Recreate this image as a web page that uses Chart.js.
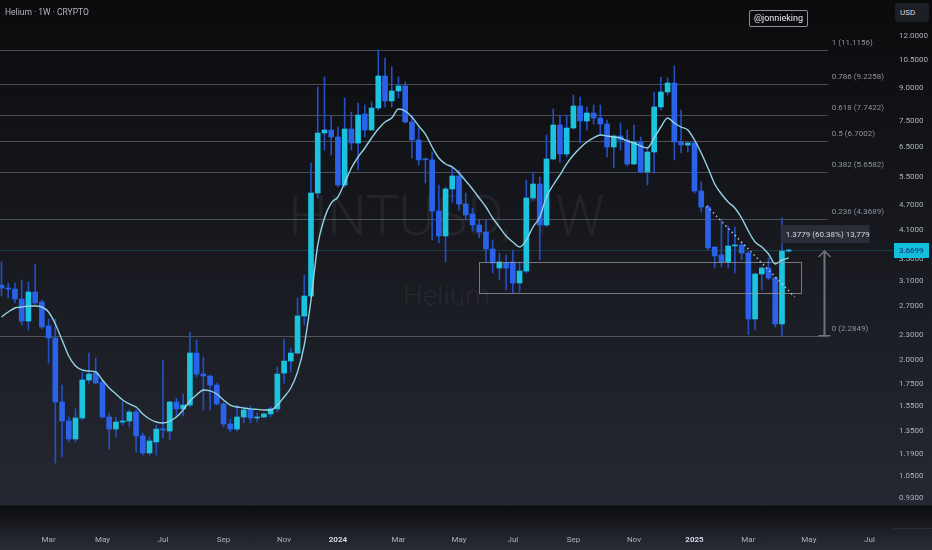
<!DOCTYPE html>
<html lang="en">
<head>
  <meta charset="UTF-8">
  <title>Helium HNTUSD 1W</title>
  <script src="https://cdn.jsdelivr.net/npm/chart.js"></script>
  <style>
    html, body { margin: 0; padding: 0; background: #0b0b0d; }
    #wrap {
      position: relative; width: 932px; height: 550px; overflow: hidden;
      background: linear-gradient(to bottom, #0b0b0d 0px, #252832 505px, #0c0d10 506px, #2a2d36 550px);
      font-family: Roboto, "Liberation Sans", sans-serif;
    }
    #chart { position: absolute; left: 0; top: 0; display: block; }
    .wm { position: absolute; left: 0; width: 893px; text-align: center; color: rgba(255,255,255,0.06); font-weight: 300; line-height: 1; white-space: nowrap; }
    #title { position: absolute; left: 5px; top: 7px; font-size: 8.5px; color: #b2b5be; }
    #handle { position: absolute; left: 749px; top: 10px; width: 57px; height: 15px; border: 1px solid #8d9099; border-radius: 2px;
      color: #e8eaee; font-size: 9px; line-height: 15px; text-align: center; }
    #usd { position: absolute; left: 895px; top: 3px; width: 34px; height: 19px; background: #1c1f26; border-radius: 3px;
      color: #d1d4dc; font-size: 8px; line-height: 19px; padding-left: 5px; box-sizing: border-box; }
  </style>
</head>
<body>
<div id="wrap">
  <div class="wm" style="top:189px;font-size:55px;">HNTUSD, 1W</div>
  <div class="wm" style="top:282px;font-size:28px;">Helium</div>
  <canvas id="chart" width="932" height="550"></canvas>
  <div id="title">Helium · 1W · CRYPTO</div>
  <div id="handle">@jonnieking</div>
  <div id="usd">USD</div>
</div>

<script>
  // weekly candles, first week = 2023-01-16 (index 0)
  const openP = [3.025,2.975,2.958,2.799,2.478,2.910,2.753,2.411,2.256,1.583,
    1.425,1.290,1.449,1.788,1.858,1.768,1.457,1.363,1.417,1.425,
    1.498,1.312,1.194,1.269,1.363,1.348,1.583,1.524,1.557,2.076,
    1.848,1.828,1.739,1.566,1.402,1.363,1.457,1.515,1.449,1.457,
    1.482,1.524,1.858,1.986,2.076,2.548,2.846,5.033,7.015,7.132,
    6.862,5.261,7.172,6.637,7.793,7.132,8.056,9.617,8.376,8.852,
    9.099,7.455,6.749,6.080,6.047,4.555,3.967,5.146,5.530,4.736,
    4.482,4.216,4.056,3.692,3.323,3.416,3.436,3.059,3.268,4.896,
    5.290,4.216,6.075,7.333,6.245,7.212,8.146,7.496,7.836,7.622,
    7.373,6.492,6.900,6.749,5.909,6.674,5.654,6.315,8.101,8.803,
    9.252,6.674,6.564,6.637,5.088,4.658,3.733,3.572,3.436,3.754,
    3.775,3.611,2.506,3.215,3.323,3.145,2.438,3.651];
  const highP = [3.436,3.059,3.059,3.110,3.075,3.398,2.784,2.506,2.506,1.739,
    1.457,1.524,1.869,2.076,2.020,1.788,1.490,1.457,1.583,1.515,
    1.515,1.333,1.305,1.394,1.997,1.592,1.619,1.655,2.332,2.231,
    2.031,1.838,1.758,1.583,1.441,1.557,1.540,1.549,1.490,1.490,
    1.540,1.921,2.243,2.134,2.815,3.198,5.942,9.049,9.564,7.707,
    7.252,8.514,7.879,8.281,8.191,8.327,11.116,10.625,10.108,9.564,
    9.303,7.749,7.212,6.109,6.315,5.261,5.203,5.812,5.716,5.033,
    4.632,4.335,4.335,3.880,3.611,3.572,3.671,3.436,5.410,5.654,
    5.500,6.938,8.011,7.749,7.749,8.657,8.561,8.101,8.191,8.191,
    7.538,6.938,7.414,7.132,7.333,6.862,6.492,8.803,9.564,9.510,
    10.164,7.967,6.674,6.674,5.349,4.710,3.733,4.335,4.193,4.170,
    3.816,3.631,3.233,3.342,3.513,3.162,4.384,3.690];
  const lowP = [2.846,2.815,2.738,2.424,2.358,2.708,2.371,1.964,1.129,1.168,
    1.269,1.269,1.433,1.758,1.749,1.449,1.221,1.305,1.394,1.378,
    1.200,1.181,1.181,1.181,1.298,1.283,1.465,1.465,1.540,1.818,
    1.515,1.515,1.557,1.378,1.341,1.348,1.410,1.410,1.417,1.449,
    1.457,1.500,1.758,1.869,2.065,2.424,2.815,4.896,6.384,6.211,
    5.203,5.203,6.384,5.716,6.862,7.132,7.960,8.101,8.101,8.514,
    7.414,6.109,5.876,5.319,3.880,3.816,3.436,4.788,4.580,4.335,
    4.078,3.924,3.436,3.233,3.110,2.942,2.894,2.910,3.233,4.840,
    3.474,4.170,6.040,5.970,6.140,7.170,6.637,7.132,7.373,6.938,
    6.143,5.780,6.384,5.844,5.876,5.620,5.261,5.620,7.960,8.657,
    6.042,6.280,6.315,5.033,4.530,3.671,3.323,3.342,3.323,3.233,
    3.474,2.300,2.358,2.942,3.110,2.398,2.285,3.630];
  const closeP = [2.975,2.958,2.799,2.478,2.910,2.738,2.398,2.256,1.583,1.425,
    1.290,1.449,1.788,1.848,1.758,1.457,1.363,1.417,1.425,1.498,
    1.312,1.194,1.276,1.363,1.356,1.583,1.524,1.557,2.076,1.848,
    1.828,1.739,1.566,1.402,1.363,1.457,1.515,1.449,1.457,1.482,
    1.524,1.848,1.986,2.076,2.548,2.846,5.033,7.015,7.132,6.862,
    5.261,7.172,6.637,7.749,7.132,8.056,9.617,8.376,8.852,9.099,
    7.455,6.749,6.047,6.047,4.555,3.967,5.146,5.530,4.736,4.457,
    4.216,4.056,3.692,3.416,3.436,3.323,3.059,3.268,4.896,5.290,
    4.216,6.075,7.333,6.245,7.212,8.146,7.496,7.836,7.622,7.373,
    6.492,6.900,6.749,5.909,6.674,5.654,6.315,8.101,8.803,9.252,
    6.674,6.564,6.637,5.088,4.658,3.713,3.552,3.436,3.754,3.775,
    3.611,2.506,3.215,3.323,3.145,2.438,3.651,3.670];
  // moving average line
  const maLine = [2.534,2.605,2.663,2.678,2.693,2.693,2.678,2.605,2.438,2.231,
    2.042,1.932,1.890,1.879,1.869,1.788,1.711,1.655,1.601,1.566,
    1.540,1.482,1.441,1.417,1.409,1.425,1.457,1.515,1.592,1.646,
    1.692,1.683,1.655,1.601,1.557,1.540,1.532,1.524,1.520,1.515,
    1.515,1.557,1.628,1.711,1.869,2.170,2.784,3.774,4.383,4.762,
    4.923,5.320,5.780,6.143,6.456,6.824,7.172,7.455,7.622,8.011,
    7.924,7.664,7.292,6.976,6.492,6.109,5.910,5.812,5.622,5.379,
    5.146,4.896,4.658,4.383,4.170,3.967,3.837,3.733,3.880,4.170,
    4.408,4.923,5.261,5.561,5.910,6.211,6.456,6.674,6.824,6.938,
    6.900,6.862,6.824,6.712,6.638,6.528,6.456,6.824,7.252,7.622,
    7.414,7.252,7.132,6.749,6.280,5.780,5.290,5.005,4.788,4.632,
    4.383,4.078,3.837,3.733,3.591,3.398,3.474,3.513];

  const yTickValues = [12, 10.5, 9, 7.5, 6.5, 5.5, 4.7, 4.1, 3.5, 3.1, 2.7, 2.3, 2.0, 1.75, 1.55, 1.35, 1.19, 1.05, 0.93];
  const xTickIdx = [7, 15, 24, 33, 42, 50, 59, 68, 76, 85, 94, 103, 111, 120, 129];
  const xTickLabels = ['Mar', 'May', 'Jul', 'Sep', 'Nov', '2024', 'Mar', 'May', 'Jul', 'Sep', 'Nov', '2025', 'Mar', 'May', 'Jul'];

  const fibRatio = ['1', '0.786', '0.618', '0.5', '0.382', '0.236', '0'];
  const fibPrice = [11.1156, 9.2258, 7.7422, 6.7002, 5.6582, 4.3689, 2.2849];
  const lastPrice = 3.6699;
  const measureText = '1.3779 (60.38%) 13,779';

  const UP = '#1cc3df', DOWN = '#2a62ea', WICK = '#234fc0';
  const FONT = 'Roboto, "Liberation Sans", sans-serif';

  const idx = openP.map((_, i) => i);
  const colors = idx.map(i => closeP[i] >= openP[i] ? UP : DOWN);

  function line(ctx, x1, y1, x2, y2) {
    ctx.beginPath(); ctx.moveTo(x1, y1); ctx.lineTo(x2, y2); ctx.stroke();
  }

  // fib levels, box, trend line, measure arrow, price tag
  const drawings = {
    id: 'drawings',
    beforeDatasetsDraw(chart) {
      const {ctx, chartArea: a, scales: {x, y}} = chart;
      ctx.save();
      const yp = Math.round(y.getPixelForValue(lastPrice)) + 0.5;
      ctx.strokeStyle = 'rgba(30,150,175,0.3)';
      ctx.lineWidth = 1;
      line(ctx, a.left, yp, a.right, yp);

      const xEnd = x.getPixelForValue(122.8);
      ctx.strokeStyle = 'rgba(125,128,138,0.55)';
      ctx.fillStyle = '#8f929b';
      ctx.font = '8px ' + FONT;
      ctx.textBaseline = 'middle';
      fibPrice.forEach((p, k) => {
        const yy = Math.round(y.getPixelForValue(p)) + 0.5;
        line(ctx, a.left, yy, xEnd, yy);
        ctx.fillText(fibRatio[k] + ' (' + p.toFixed(4) + ')', xEnd + 4, yy - 8);
      });
      ctx.restore();
    },
    afterDatasetsDraw(chart) {
      const {ctx, scales: {x, y}} = chart;
      ctx.save();
      // range box
      const bx1 = x.getPixelForValue(71.0), bx2 = x.getPixelForValue(118.9);
      const by1 = y.getPixelForValue(3.436), by2 = y.getPixelForValue(2.894);
      ctx.strokeStyle = 'rgba(150,153,162,0.75)';
      ctx.lineWidth = 1;
      ctx.strokeRect(Math.round(bx1) + 0.5, Math.round(by1) + 0.5, Math.round(bx2 - bx1), Math.round(by2 - by1));

      // dotted trend line
      ctx.strokeStyle = 'rgba(225,228,235,0.8)';
      ctx.lineWidth = 1.5;
      ctx.setLineDash([1.5, 3]);
      line(ctx, x.getPixelForValue(104.8), y.getPixelForValue(4.684), x.getPixelForValue(117.9), y.getPixelForValue(2.830));
      ctx.setLineDash([]);

      // measure arrow
      const ax = Math.round(x.getPixelForValue(122.2)) + 0.5;
      const aTop = y.getPixelForValue(lastPrice), aBot = y.getPixelForValue(fibPrice[6]);
      ctx.strokeStyle = '#6f727b';
      ctx.lineWidth = 2;
      line(ctx, ax, aBot, ax, aTop + 1);
      ctx.lineWidth = 1.5;
      line(ctx, ax - 6, aBot, ax + 6, aBot);
      ctx.beginPath();
      ctx.moveTo(ax - 6, aTop + 7); ctx.lineTo(ax, aTop + 1); ctx.lineTo(ax + 6, aTop + 7);
      ctx.stroke();

      // measure label
      const lx = x.getPixelForValue(115.8), ly = aTop - 25;
      ctx.fillStyle = 'rgba(42,46,57,0.95)';
      ctx.fillRect(lx, ly, 89, 18);
      ctx.fillStyle = '#d6d8de';
      ctx.font = '8px ' + FONT;
      ctx.textBaseline = 'middle';
      ctx.fillText(measureText, lx + 5, ly + 9.5);
      ctx.restore();
    },
    afterDraw(chart) {
      const {ctx, chartArea: a, scales: {y}} = chart;
      ctx.save();
      ctx.strokeStyle = 'rgba(255,255,255,0.08)';
      ctx.lineWidth = 1;
      line(ctx, a.right, 528.5, 932, 528.5);
      const yp = Math.round(y.getPixelForValue(lastPrice));
      ctx.fillStyle = '#11bfdc';
      ctx.fillRect(a.right + 1, yp - 7, 35, 15);
      ctx.fillStyle = '#0d2f6e';
      ctx.font = '8px ' + FONT;
      ctx.textBaseline = 'middle';
      ctx.fillText(lastPrice.toFixed(4), a.right + 6, yp + 0.5);
      ctx.restore();
    }
  };

  new Chart(document.getElementById('chart'), {
    type: 'bar',
    data: {
      datasets: [
        {
          type: 'line',
          label: 'MA',
          data: idx.map(i => ({x: i, y: maLine[i]})),
          borderColor: '#93d2e6',
          borderWidth: 1.4,
          pointRadius: 0,
          cubicInterpolationMode: 'monotone',
          order: 1
        },
        {
          label: 'Body',
          data: idx.map(i => ({x: i, y: [openP[i], closeP[i]]})),
          backgroundColor: colors,
          barThickness: 5,
          minBarLength: 1,
          grouped: false,
          order: 2
        },
        {
          label: 'Wick',
          data: idx.map(i => ({x: i, y: [lowP[i], highP[i]]})),
          backgroundColor: WICK,
          barThickness: 1,
          grouped: false,
          order: 3
        }
      ]
    },
    options: {
      responsive: false,
      animation: false,
      layout: { padding: 0 },
      plugins: { legend: { display: false }, tooltip: { enabled: false } },
      scales: {
        x: {
          type: 'linear',
          min: -0.223,
          max: 132.5,
          offset: false,
          bounds: 'data',
          grid: { display: false, drawTicks: false },
          border: { display: false },
          afterBuildTicks: s => { s.ticks = xTickIdx.map(v => ({value: v})); },
          afterFit: s => { s.height = 45; s.paddingLeft = 0; s.paddingRight = 0; },
          ticks: {
            autoSkip: false,
            maxRotation: 0,
            padding: 30,
            callback: (v, k) => xTickLabels[k],
            color: c => /^\d{4}$/.test(xTickLabels[c.index]) ? '#cfd8e6' : '#aeb1b9',
            font: c => ({ family: FONT, size: 8, weight: /^\d{4}$/.test(xTickLabels[c.index]) ? 'bold' : 'normal' })
          }
        },
        y: {
          type: 'logarithmic',
          position: 'right',
          min: 0.8953,
          max: 14.645,
          bounds: 'data',
          grid: { display: false, drawTicks: false },
          border: { display: false },
          afterBuildTicks: s => { s.ticks = yTickValues.map(v => ({value: v})); },
          afterFit: s => { s.width = 39; s.paddingTop = 0; s.paddingBottom = 0; },
          ticks: {
            autoSkip: false,
            padding: 6,
            color: '#aeb1b9',
            font: { family: FONT, size: 8 },
            callback: v => Number(v).toFixed(4)
          }
        }
      }
    },
    plugins: [drawings]
  });
</script>
</body>
</html>
